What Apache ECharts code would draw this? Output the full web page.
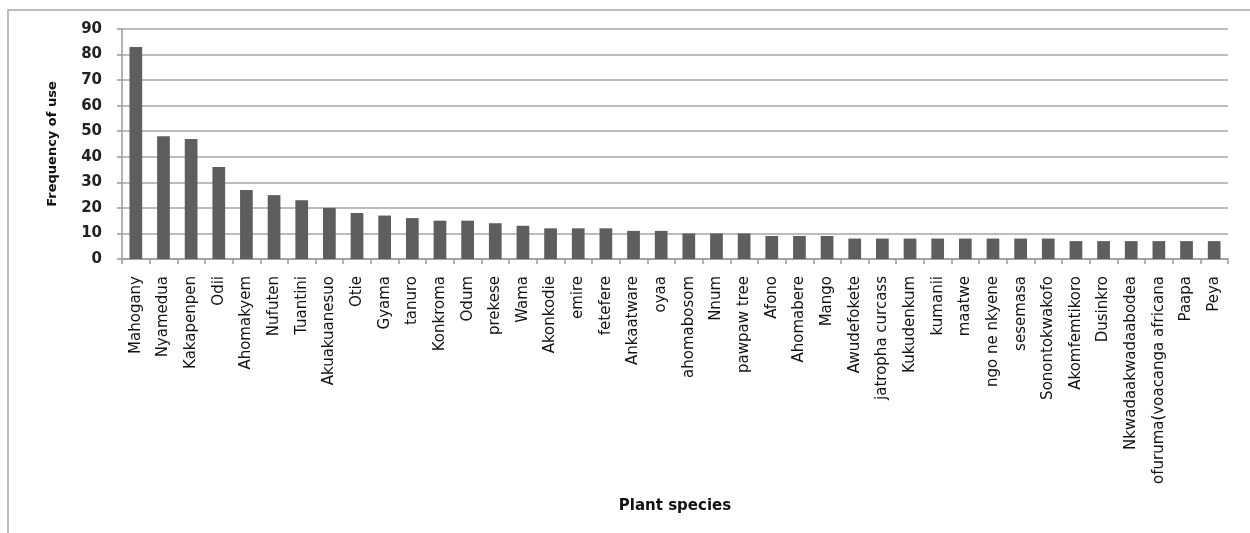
<!DOCTYPE html>
<html>
<head>
<meta charset="utf-8">
<script src="https://cdn.jsdelivr.net/npm/echarts@6/dist/echarts.min.js"></script>
<style>
  html, body { margin: 0; padding: 0; background: #fff; }
  #chart-container { width: 1250px; height: 533px; }
</style>
</head>
<body>
<div id="chart-container"></div>
<script>
// plant species and how often each is used
const species = [
  'Mahogany', 'Nyamedua', 'Kakapenpen', 'Odii', 'Ahomakyem', 'Nufuten', 'Tuantini',
  'Akuakuanesuo', 'Otie', 'Gyama', 'tanuro', 'Konkroma', 'Odum', 'prekese', 'Wama',
  'Akonkodie', 'emire', 'fetefere', 'Ankaatware', 'oyaa', 'ahomabosom', 'Nnum',
  'pawpaw tree', 'Afono', 'Ahomabere', 'Mango', 'Awudefokete', 'jatropha curcass',
  'Kukudenkum', 'kumanii', 'maatwe', 'ngo ne nkyene', 'sesemasa', 'Sonontokwakofo',
  'Akomfemtikoro', 'Dusinkro', 'Nkwadaakwadaabodea', 'ofuruma(voacanga africana',
  'Paapa', 'Peya'
];
const frequency = [
  83, 48, 47, 36, 27, 25, 23,
  20, 18, 17, 16, 15, 15, 14, 13,
  12, 12, 12, 11, 11, 10, 10,
  10, 9, 9, 9, 8, 8,
  8, 8, 8, 8, 8, 8,
  7, 7, 7, 7,
  7, 7
];
const yTicks = [0, 10, 20, 30, 40, 50, 60, 70, 80, 90];

const font = '"DejaVu Sans", "Liberation Sans", sans-serif';
const chart = echarts.init(document.getElementById('chart-container'));

chart.setOption({
  backgroundColor: '#fff',
  animation: false,
  graphic: [{
    type: 'polyline',
    shape: { points: [[8, 533], [8, 10], [1250, 10]] },
    style: { stroke: '#a6a6a6', lineWidth: 1.5, fill: null }
  }],
  grid: { left: 122, right: 22, top: 29, bottom: 274 },
  xAxis: {
    type: 'category',
    data: species,
    name: 'Plant species',
    nameLocation: 'middle',
    nameGap: 240,
    nameTextStyle: { fontFamily: font, fontSize: 15, fontWeight: 'bold', color: '#111' },
    axisLine: { lineStyle: { color: '#999', width: 1.5 } },
    axisTick: { show: true, length: 5, lineStyle: { color: '#999', width: 1.5 } },
    axisLabel: {
      interval: 0, rotate: 90, margin: 17,
      fontFamily: font, fontSize: 15, color: '#111'
    }
  },
  yAxis: {
    type: 'value',
    min: yTicks[0],
    max: yTicks[yTicks.length - 1],
    interval: 10,
    name: 'Frequency of use',
    nameLocation: 'middle',
    nameGap: 63,
    nameRotate: 90,
    nameTextStyle: { fontFamily: font, fontSize: 13, fontWeight: 'bold', color: '#111' },
    axisLine: { show: true, lineStyle: { color: '#999', width: 1.5 } },
    axisTick: { show: true, length: 5, lineStyle: { color: '#999', width: 1.5 } },
    axisLabel: { fontFamily: font, fontSize: 15, fontWeight: 'bold', color: '#222', margin: 20 },
    splitLine: { lineStyle: { color: '#a6a6a6', width: 1.5 } }
  },
  series: [{
    type: 'bar',
    data: frequency,
    barWidth: '46%',
    itemStyle: { color: '#5e5e5e' }
  }]
});
</script>
</body>
</html>
